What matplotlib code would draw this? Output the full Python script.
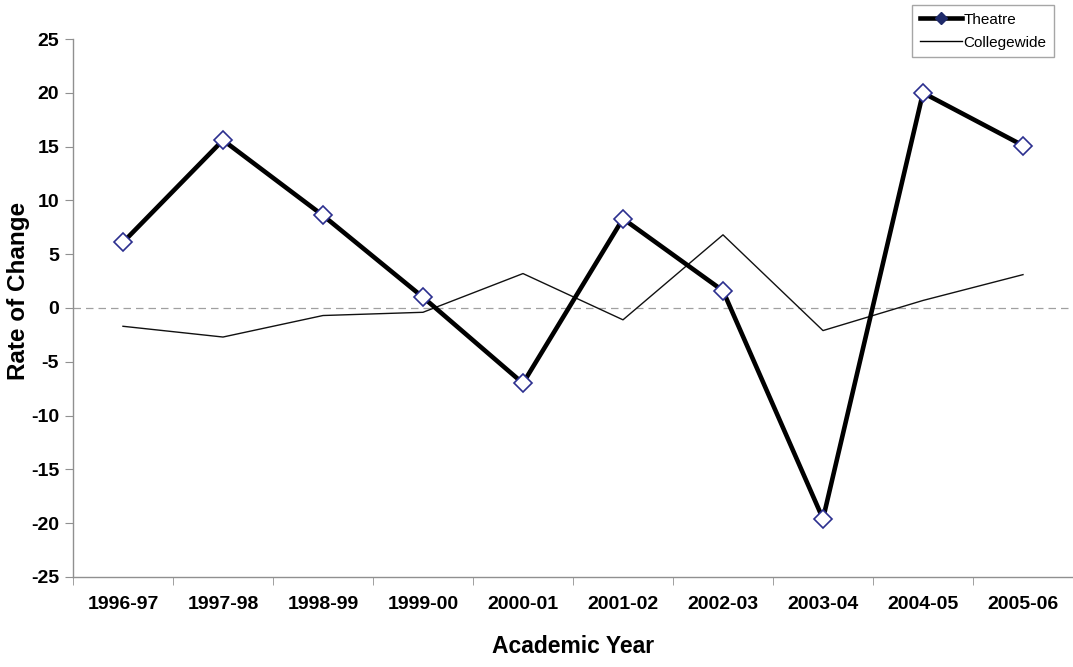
import matplotlib
matplotlib.use("Agg")
import matplotlib.pyplot as plt
from matplotlib.lines import Line2D

plt.rcParams['font.family'] = ['Liberation Sans', 'DejaVu Sans']

years = ["1996-97", "1997-98", "1998-99", "1999-00", "2000-01",
         "2001-02", "2002-03", "2003-04", "2004-05", "2005-06"]
theatre = [6.1, 15.6, 8.6, 1.0, -7.0, 8.3, 1.6, -19.6, 20.0, 15.1]
collegewide = [-1.7, -2.7, -0.7, -0.4, 3.2, -1.1, 6.8, -2.1, 0.7, 3.1]
y_ticks = [-25, -20, -15, -10, -5, 0, 5, 10, 15, 20, 25]

fig = plt.figure(figsize=(10.73, 6.67), dpi=100)
ax = fig.add_axes([0.068, 0.135, 0.932, 0.8065])

x = list(range(len(years)))
ax.axhline(0, color='#a0a0a0', lw=0.9, ls=(0, (6, 4)), zorder=1)
ax.plot(x, collegewide, color='#111111', lw=1.0, zorder=2)
ax.plot(x, theatre, color='black', lw=3.3, zorder=3)
ax.plot(x, theatre, ls='none', marker='D', ms=9.5, mfc='white',
        mec='#2b2f8f', mew=1.2, zorder=4)

ax.set_xlim(-0.5, len(years) - 0.5)
ax.set_ylim(-25, 25)
ax.set_yticks(y_ticks)
ax.set_yticklabels([str(v) for v in y_ticks], fontsize=14, fontweight='bold')
ax.set_xticks(x)
ax.set_xticklabels(years, fontsize=14, fontweight='bold')
ax.tick_params(axis='x', length=0, pad=14)
ax.set_xticks([i + 0.5 for i in range(-1, len(years))], minor=True)
ax.tick_params(axis='x', which='minor', length=6, color='#909090', direction='out')
ax.tick_params(axis='y', length=6, color='#909090', direction='out', pad=4)

for side in ('top', 'right'):
    ax.spines[side].set_visible(False)
for side in ('left', 'bottom'):
    ax.spines[side].set_color('#909090')
    ax.spines[side].set_linewidth(1.0)

ax.set_xlabel("Academic Year", fontsize=16.5, fontweight='bold', va='center')
ax.xaxis.set_label_coords(0.5, -(647 - 577) / 538)
ax.set_ylabel("Rate of Change", fontsize=17.5, fontweight='bold', va='center')
ax.yaxis.set_label_coords(-(73 - 19) / 1000, (577 - 291) / 538)

handles = [
    Line2D([], [], color='black', lw=3.3, marker='D', ms=6,
           mfc='#1f2a6a', mec='#1f2a6a'),
    Line2D([], [], color='black', lw=1.0),
]
fig.legend(handles, ["Theatre", "Collegewide"], loc='upper left',
           bbox_to_anchor=(912 / 1073, 1 - 5 / 667), fontsize=11,
           frameon=True, fancybox=False, edgecolor='#909090',
           handlelength=2.8, handletextpad=0.05, borderpad=0.5,
           borderaxespad=0, labelspacing=0.6)

fig.savefig("out.png", dpi=100)
